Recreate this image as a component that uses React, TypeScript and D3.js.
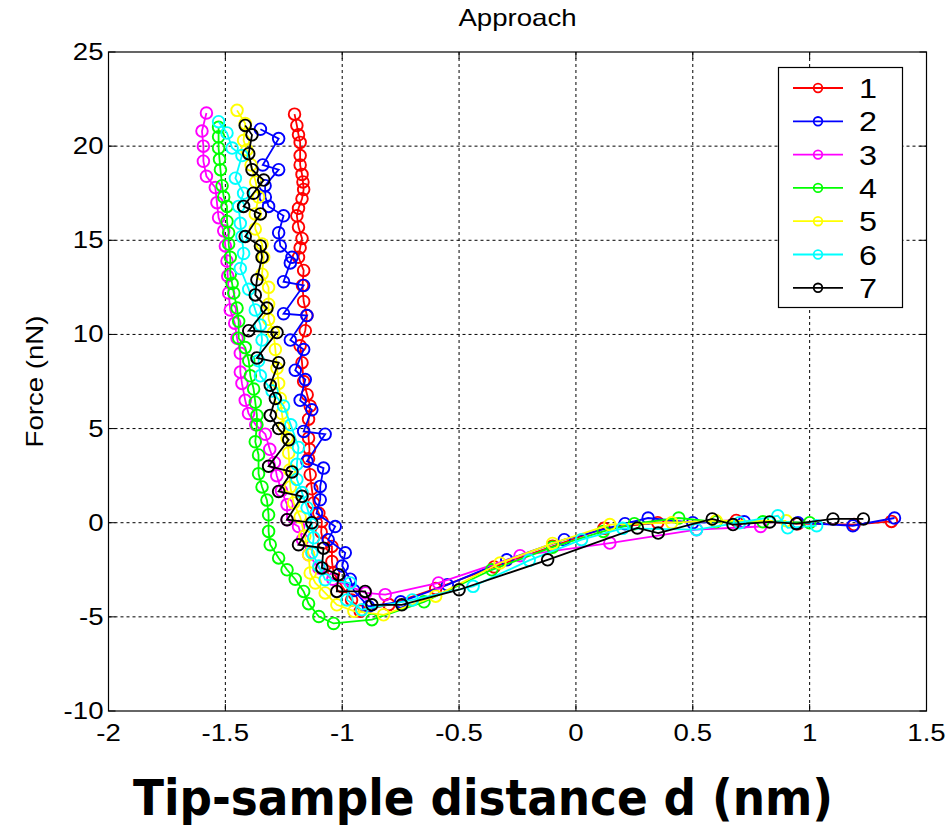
import React from "react";
import * as d3 from "d3";

// approach curves: [distance (nm), force (nN)]
const run1: [number, number][] = [
  [-1.204, 21.7], [-1.194, 21.1], [-1.187, 20.6], [-1.18, 20.2], [-1.18, 19.5], [-1.18, 19.0],
  [-1.172, 18.5], [-1.168, 18.1], [-1.165, 17.7], [-1.172, 17.2], [-1.187, 16.7], [-1.194, 16.3],
  [-1.187, 15.7], [-1.172, 15.1], [-1.18, 14.6], [-1.187, 14.1], [-1.165, 13.4], [-1.17, 12.6],
  [-1.165, 11.75], [-1.151, 11.0], [-1.158, 10.2], [-1.18, 9.4], [-1.172, 8.5], [-1.165, 7.5],
  [-1.15, 6.8], [-1.137, 6.2], [-1.144, 5.5], [-1.144, 4.5], [-1.14, 3.9], [-1.144, 3.4],
  [-1.137, 2.55], [-1.13, 1.8], [-1.122, 1.05], [-1.1, 0.5], [-1.087, 0.07], [-1.09, -0.5],
  [-1.08, -1.08], [-1.044, -1.26], [-1.044, -2.06], [-1.037, -2.67], [-1.0, -3.4], [-0.96, -4.1],
  [-0.923, -4.7], [-0.8, -4.35], [-0.6, -3.5], [-0.35, -2.35], [-0.1, -1.25], [0.12, -0.3],
  [0.35, 0.0], [0.686, 0.12], [0.95, -0.05], [1.19, -0.1], [1.35, 0.07],
];

const run2: [number, number][] = [
  [-1.35, 20.9], [-1.272, 20.4], [-1.34, 19.0], [-1.272, 18.75], [-1.33, 17.9], [-1.329, 17.3],
  [-1.315, 16.8], [-1.251, 16.3], [-1.272, 15.4], [-1.265, 14.7], [-1.215, 14.1], [-1.222, 13.8],
  [-1.251, 12.8], [-1.165, 12.6], [-1.251, 11.1], [-1.151, 11.0], [-1.222, 9.7], [-1.165, 9.2],
  [-1.201, 8.1], [-1.158, 7.6], [-1.18, 6.5], [-1.13, 6.0], [-1.165, 4.85], [-1.073, 4.7],
  [-1.151, 3.26], [-1.08, 2.9], [-1.094, 1.93], [-1.094, 1.22], [-1.11, 0.5], [-1.03, -0.2],
  [-1.06, -0.9], [-0.987, -1.6], [-1.0, -2.3], [-0.966, -3.0], [-0.95, -3.6], [-0.888, -4.45],
  [-0.75, -4.2], [-0.55, -3.3], [-0.296, -1.97], [-0.05, -0.9], [0.21, -0.05], [0.309, 0.25],
  [0.5, 0.0], [0.72, 0.05], [0.95, 0.0], [1.185, -0.16], [1.363, 0.25],
];

const run3: [number, number][] = [
  [-1.581, 21.76], [-1.6, 20.8], [-1.594, 20.0], [-1.594, 19.2], [-1.581, 18.4], [-1.543, 17.8],
  [-1.536, 17.0], [-1.529, 16.2], [-1.507, 15.5], [-1.5, 14.7], [-1.493, 13.9], [-1.49, 13.1],
  [-1.486, 12.2], [-1.479, 11.3], [-1.46, 10.6], [-1.45, 9.8], [-1.436, 9.0], [-1.436, 8.0],
  [-1.429, 7.4], [-1.415, 6.5], [-1.401, 5.8], [-1.37, 5.2], [-1.329, 4.7], [-1.31, 3.9],
  [-1.29, 3.2], [-1.28, 2.5], [-1.26, 1.7], [-1.236, 0.96], [-1.236, 0.16], [-1.187, -0.2],
  [-1.17, -0.9], [-1.144, -1.7], [-1.1, -2.4], [-1.04, -3.0], [-0.9, -3.73], [-0.816, -3.82],
  [-0.588, -3.2], [-0.239, -1.75], [0.145, -1.08], [0.516, -0.37], [0.79, -0.2],
];

const run4: [number, number][] = [
  [-1.529, 21.0], [-1.529, 20.5], [-1.529, 19.9], [-1.525, 19.3], [-1.521, 18.75], [-1.514, 17.9],
  [-1.507, 17.3], [-1.493, 16.8], [-1.493, 16.0], [-1.486, 15.4], [-1.486, 14.8], [-1.479, 14.1],
  [-1.479, 13.2], [-1.471, 12.7], [-1.464, 12.2], [-1.45, 11.4], [-1.443, 10.7], [-1.443, 9.8],
  [-1.415, 9.3], [-1.4, 8.6], [-1.393, 7.8], [-1.379, 7.1], [-1.372, 6.4], [-1.365, 5.7],
  [-1.365, 5.2], [-1.372, 4.3], [-1.358, 3.6], [-1.358, 2.6], [-1.343, 1.9], [-1.322, 1.2],
  [-1.315, 0.42], [-1.315, -0.46], [-1.308, -1.17], [-1.272, -1.87], [-1.236, -2.5], [-1.201, -3.0],
  [-1.165, -3.65], [-1.144, -4.3], [-1.1, -4.98], [-1.037, -5.35], [-0.873, -5.15], [-0.65, -4.2],
  [-0.36, -2.5], [-0.1, -1.3], [0.117, -0.46], [0.25, -0.05], [0.44, 0.25], [0.6, 0.05],
  [0.8, 0.05], [1.0, 0.0],
];

const run5: [number, number][] = [
  [-1.45, 21.9], [-1.415, 21.2], [-1.422, 20.3], [-1.408, 19.8], [-1.39, 19.0], [-1.37, 18.1],
  [-1.358, 17.3], [-1.372, 16.4], [-1.372, 15.6], [-1.343, 14.8], [-1.336, 14.1], [-1.343, 13.2],
  [-1.315, 12.5], [-1.315, 11.6], [-1.315, 10.8], [-1.294, 10.1], [-1.286, 9.2], [-1.279, 8.2],
  [-1.272, 7.4], [-1.265, 6.6], [-1.258, 5.8], [-1.25, 5.1], [-1.236, 4.5], [-1.229, 3.7],
  [-1.225, 2.8], [-1.222, 1.9], [-1.208, 1.05], [-1.18, 0.3], [-1.16, -0.7], [-1.144, -1.7],
  [-1.137, -2.67], [-1.115, -3.2], [-1.073, -3.73], [-1.023, -4.36], [-0.95, -4.7], [-0.823, -4.89],
  [-0.6, -3.9], [-0.325, -2.14], [-0.1, -1.1], [0.145, -0.1], [0.41, 0.0], [0.6, 0.1], [0.9, 0.1],
];

const run6: [number, number][] = [
  [-1.529, 21.3], [-1.493, 20.7], [-1.471, 19.9], [-1.429, 19.5], [-1.457, 18.3], [-1.422, 17.5],
  [-1.443, 16.8], [-1.436, 15.9], [-1.429, 15.2], [-1.422, 14.3], [-1.436, 13.5], [-1.4, 12.4],
  [-1.372, 11.3], [-1.35, 10.5], [-1.343, 9.7], [-1.358, 8.6], [-1.35, 7.8], [-1.3, 7.0],
  [-1.251, 6.2], [-1.22, 5.2], [-1.187, 4.0], [-1.194, 3.1], [-1.194, 2.3], [-1.172, 1.6],
  [-1.15, 0.8], [-1.13, -0.1], [-1.122, -0.8], [-1.13, -1.6], [-1.1, -2.3], [-1.073, -3.03],
  [-0.966, -3.2], [-0.98, -4.1], [-0.916, -4.62], [-0.7, -4.1], [-0.44, -3.38], [-0.2, -2.0],
  [0.024, -0.9], [0.2, -0.3], [0.516, -0.37], [0.7, 0.0], [0.864, 0.37], [0.906, -0.27], [1.03, -0.16],
];

const run7: [number, number][] = [
  [-1.415, 21.1], [-1.386, 20.6], [-1.4, 19.6], [-1.386, 18.75], [-1.336, 18.2], [-1.38, 17.5],
  [-1.422, 16.8], [-1.35, 16.4], [-1.415, 15.2], [-1.35, 14.7], [-1.343, 14.1], [-1.365, 12.9],
  [-1.372, 12.1], [-1.322, 11.4], [-1.4, 10.2], [-1.279, 10.1], [-1.365, 8.75], [-1.272, 8.5],
  [-1.308, 7.3], [-1.286, 6.6], [-1.308, 5.7], [-1.272, 5.0], [-1.229, 4.4], [-1.315, 3.0],
  [-1.215, 2.7], [-1.272, 1.66], [-1.172, 1.4], [-1.236, 0.16], [-1.13, 0.0], [-1.187, -1.17],
  [-1.08, -1.35], [-1.087, -2.4], [-1.016, -2.76], [-1.023, -3.65], [-0.902, -3.65], [-0.873, -4.36],
  [-0.745, -4.36], [-0.5, -3.56], [-0.121, -1.97], [0.263, -0.28], [0.352, -0.55], [0.583, 0.2],
  [0.672, -0.1], [0.829, 0.04], [0.943, -0.05], [1.1, 0.2], [1.23, 0.2],
];

const runs = [run1, run2, run3, run4, run5, run6, run7];
const runNames = ["1", "2", "3", "4", "5", "6", "7"];
const runColors = ["#ff0000", "#0000ff", "#ff00ff", "#00ff00", "#ffff00", "#00ffff", "#000000"];

const xTicks = [-2, -1.5, -1, -0.5, 0, 0.5, 1, 1.5];
const yTicks = [-10, -5, 0, 5, 10, 15, 20, 25];

const W = 947;
const H = 832;
const plot = { left: 108.5, right: 926.5, top: 52, bottom: 711 };
const font = "'Liberation Sans', Arial, sans-serif";

export default function App() {
  const x = d3.scaleLinear().domain([-2, 1.5]).range([plot.left, plot.right]);
  const y = d3.scaleLinear().domain([-10, 25]).range([plot.bottom, plot.top]);
  const line = d3.line<[number, number]>().x(d => x(d[0])).y(d => y(d[1]));

  return (
    <svg width={W} height={H} style={{ position: "absolute", left: 0, top: 0, background: "#fff" }}>
      <rect width={W} height={H} fill="#fff" />

      {/* grid */}
      {xTicks.slice(1, -1).map(t => (
        <line key={"gx" + t} x1={x(t)} x2={x(t)} y1={plot.top} y2={plot.bottom}
          stroke="#000" strokeWidth={1} strokeDasharray="3,3" />
      ))}
      {yTicks.slice(1, -1).map(t => (
        <line key={"gy" + t} x1={plot.left} x2={plot.right} y1={y(t)} y2={y(t)}
          stroke="#000" strokeWidth={1} strokeDasharray="3,3" />
      ))}

      {/* ticks on all four sides */}
      {xTicks.map(t => (
        <g key={"tx" + t}>
          <line x1={x(t)} x2={x(t)} y1={plot.bottom} y2={plot.bottom - 7} stroke="#000" />
          <line x1={x(t)} x2={x(t)} y1={plot.top} y2={plot.top + 7} stroke="#000" />
          <text transform={`translate(${x(t)},${plot.bottom + 30}) scale(1.2,1)`}
            textAnchor="middle" fontFamily={font} fontSize={23}>{t}</text>
        </g>
      ))}
      {yTicks.map(t => (
        <g key={"ty" + t}>
          <line x1={plot.left} x2={plot.left + 7} y1={y(t)} y2={y(t)} stroke="#000" />
          <line x1={plot.right} x2={plot.right - 7} y1={y(t)} y2={y(t)} stroke="#000" />
          <text transform={`translate(${plot.left - 5},${y(t) + 8}) scale(1.2,1)`}
            textAnchor="end" fontFamily={font} fontSize={23}>{t}</text>
        </g>
      ))}

      {/* data */}
      {runs.map((r, i) => (
        <g key={"run" + i}>
          <path d={line(r) ?? ""} fill="none" stroke={runColors[i]} strokeWidth={1.8} />
          {r.map((p, j) => (
            <circle key={j} cx={x(p[0])} cy={y(p[1])} r={5.8} fill="none"
              stroke={runColors[i]} strokeWidth={1.9} />
          ))}
        </g>
      ))}

      <rect x={plot.left} y={plot.top} width={plot.right - plot.left} height={plot.bottom - plot.top}
        fill="none" stroke="#000" strokeWidth={1.2} />

      {/* legend */}
      <g>
        <rect x={778.5} y={67.5} width={124} height={240} fill="#fff" stroke="#000" strokeWidth={1.2} />
        {runNames.map((n, i) => {
          const ly = 88 + i * 33.3;
          return (
            <g key={"lg" + n}>
              <line x1={793} x2={843} y1={ly} y2={ly} stroke={runColors[i]} strokeWidth={1.8} />
              <circle cx={818} cy={ly} r={4.3} fill="none" stroke={runColors[i]} strokeWidth={1.8} />
              <text transform={`translate(859,${ly + 10}) scale(1.2,1)`}
                fontFamily={font} fontSize={27}>{n}</text>
            </g>
          );
        })}
      </g>

      {/* titles */}
      <text transform={`translate(${(plot.left + plot.right) / 2},26) scale(1.2,1)`}
        textAnchor="middle" fontFamily={font} fontSize={23}>Approach</text>
      <text transform={`translate(43,${(plot.top + plot.bottom) / 2}) rotate(-90) scale(1.2,1)`}
        textAnchor="middle" fontFamily={font} fontSize={23}>Force (nN)</text>
      <text x={483} y={815} textAnchor="middle" fontFamily="'Comic Sans MS', 'DejaVu Sans', sans-serif"
        fontWeight="bold" fontSize={50} textLength={700} lengthAdjust="spacingAndGlyphs">
        Tip-sample distance d (nm)
      </text>
    </svg>
  );
}
